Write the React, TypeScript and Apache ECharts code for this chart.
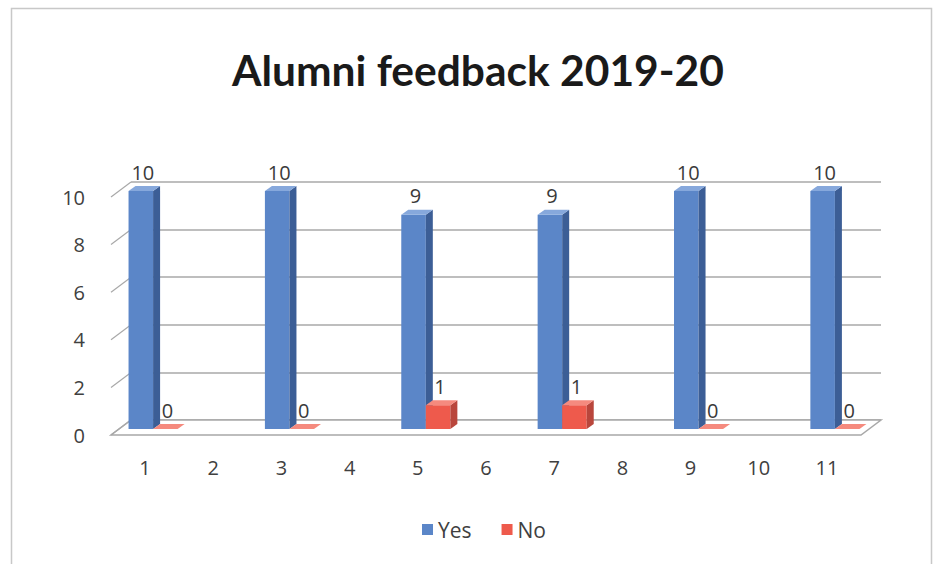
import React, { useEffect, useRef } from "react";
import * as echarts from "echarts";

const titleText = "Alumni feedback 2019-20";
const categories = ["1", "2", "3", "4", "5", "6", "7", "8", "9", "10", "11"];
const yesValues: (number | null)[] = [10, null, 10, null, 9, null, 9, null, 10, null, 10];
const noValues: (number | null)[] = [0, null, 0, null, 1, null, 1, null, 0, null, 0];
const yTicks = [0, 2, 4, 6, 8, 10];

const YES = { front: "#5b86c8", side: "#3c5e96", top: "#86a8dc" };
const NO = { front: "#ee5a4c", side: "#b9463c", top: "#f58a7e" };

const WALL_DX = 20;
const WALL_DY = -15;
const BAR_SHIFT_X = 8;
const BAR_SHIFT_Y = -6;
const SIDE_DX = 7;
const SIDE_DY = -5;

function toData(vals: (number | null)[]) {
  const out: number[][] = [];
  vals.forEach((v, i) => {
    if (v !== null) out.push([i, v]);
  });
  return out;
}

function barRenderer(which: 0 | 1, col: { front: string; side: string; top: string }) {
  return (params: any, api: any) => {
    const idx = api.value(0);
    const v = api.value(1);
    const top = api.coord([idx, v]);
    const base = api.coord([idx, 0]);
    const band = api.size([1, 0])[0];
    const w = band * 0.36;
    const cx = top[0] + BAR_SHIFT_X;
    const x0 = which === 0 ? cx - w : cx;
    const yTop = top[1] + BAR_SHIFT_Y;
    const yBot = base[1] + BAR_SHIFT_Y;
    const children: any[] = [];
    if (yBot - yTop > 0) {
      children.push({
        type: "rect",
        shape: { x: x0, y: yTop, width: w, height: yBot - yTop },
        style: { fill: col.front },
      });
    }
    children.push({
      type: "polygon",
      shape: {
        points: [
          [x0 + w, yTop],
          [x0 + w + SIDE_DX, yTop + SIDE_DY],
          [x0 + w + SIDE_DX, yBot + SIDE_DY],
          [x0 + w, yBot],
        ],
      },
      style: { fill: col.side },
    });
    children.push({
      type: "polygon",
      shape: {
        points: [
          [x0, yTop],
          [x0 + SIDE_DX, yTop + SIDE_DY],
          [x0 + w + SIDE_DX, yTop + SIDE_DY],
          [x0 + w, yTop],
        ],
      },
      style: { fill: col.top },
    });
    children.push({
      type: "text",
      style: {
        text: String(v),
        x: x0 + w / 2 + 2,
        y: yTop + SIDE_DY - 4,
        textAlign: "center",
        textVerticalAlign: "bottom",
        fontSize: 20,
        fontFamily: "Open Sans, sans-serif",
        fill: "#3a3a3a",
      },
    });
    return { type: "group", children };
  };
}

function wallRenderer(params: any, api: any) {
  const cs = params.coordSys;
  const x = cs.x;
  const w = cs.width;
  const yb = cs.y + cs.height;
  const children: any[] = [];
  children.push({
    type: "polygon",
    shape: {
      points: [
        [x, yb],
        [x + w, yb],
        [x + w + WALL_DX, yb + WALL_DY],
        [x + WALL_DX, yb + WALL_DY],
      ],
    },
    style: { fill: "#ffffff", stroke: "#a8a8a8", lineWidth: 1.5 },
  });
  yTicks.forEach((t) => {
    const p = api.coord([0, t]);
    children.push({
      type: "line",
      shape: { x1: x, y1: p[1], x2: x + WALL_DX, y2: p[1] + WALL_DY },
      style: { stroke: "#a8a8a8", lineWidth: 1.2 },
    });
  });
  return { type: "group", children };
}

export default function App() {
  const ref = useRef<HTMLDivElement>(null);
  useEffect(() => {
    if (!ref.current) return;
    const chart = echarts.init(ref.current, null, { renderer: "svg" });
    const font = "Open Sans, sans-serif";
    chart.setOption({
      animation: false,
      backgroundColor: "#ffffff",
      title: {
        text: titleText,
        left: 227,
        top: 43,
        textStyle: {
          fontSize: 42.5,
          fontWeight: "bold",
          fontFamily: "Lato, sans-serif",
          color: "#1a1a1a",
        },
      },
      legend: {
        data: ["Yes", "No"],
        left: 417,
        top: 514,
        icon: "rect",
        itemWidth: 11,
        itemHeight: 11,
        itemGap: 30,
        textStyle: { fontSize: 21, color: "#404040", fontFamily: font },
      },
      graphic: [
        {
          type: "rect",
          shape: { x: 11.5, y: 8.5, width: 920, height: 570 },
          style: { fill: "none", stroke: "#c8c8c8", lineWidth: 1.5 },
          silent: true,
        },
      ],
      grid: [
        { left: 111, top: 197, width: 750, height: 238 },
        { left: 111 + WALL_DX, top: 197 + WALL_DY, width: 750, height: 238 },
      ],
      xAxis: [
        {
          type: "category",
          gridIndex: 0,
          data: categories,
          axisLine: { show: false },
          axisTick: { show: false },
          axisLabel: { fontSize: 20, color: "#404040", margin: 22, fontFamily: font },
        },
        {
          type: "category",
          gridIndex: 1,
          data: categories,
          show: false,
        },
      ],
      yAxis: [
        {
          type: "value",
          gridIndex: 0,
          min: 0,
          max: 10,
          interval: 2,
          splitLine: { show: false },
          axisLine: { show: false },
          axisTick: { show: false },
          axisLabel: { fontSize: 20, color: "#404040", margin: 26, fontFamily: font },
        },
        {
          type: "value",
          gridIndex: 1,
          min: 0,
          max: 10,
          interval: 2,
          axisLine: { show: false },
          axisTick: { show: false },
          axisLabel: { show: false },
          splitLine: { lineStyle: { color: "#a8a8a8", width: 1.5 } },
        },
      ],
      series: [
        {
          name: "wall",
          type: "custom",
          xAxisIndex: 0,
          yAxisIndex: 0,
          z: 1,
          silent: true,
          data: [[0, 0]],
          renderItem: wallRenderer,
        },
        {
          name: "Yes",
          type: "custom",
          xAxisIndex: 0,
          yAxisIndex: 0,
          z: 3,
          itemStyle: { color: YES.front },
          data: toData(yesValues),
          renderItem: barRenderer(0, YES),
        },
        {
          name: "No",
          type: "custom",
          xAxisIndex: 0,
          yAxisIndex: 0,
          z: 3,
          itemStyle: { color: NO.front },
          data: toData(noValues),
          renderItem: barRenderer(1, NO),
        },
      ],
    });
    return () => chart.dispose();
  }, []);
  return (
    <div
      ref={ref}
      style={{ position: "fixed", left: 0, top: 0, width: 934, height: 564 }}
    />
  );
}
